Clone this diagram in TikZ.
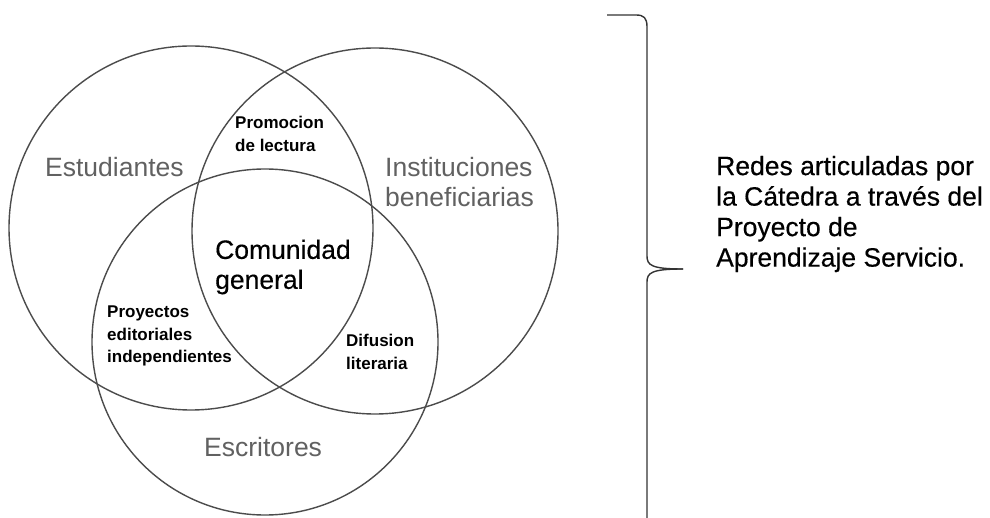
\documentclass[tikz,border=0pt]{standalone}
\usepackage{fontspec}
\setmainfont{Liberation Sans}
\newfontfamily\heavysans[FakeBold=0.4]{Liberation Sans}
\begin{document}
\begin{tikzpicture}[x=1pt,y=-1pt,
  venn/.style={circle,draw=black!70,line width=1.4pt,inner sep=0pt},
  biglabel/.style={text=black!62,font=\fontsize{26.5}{30}\selectfont,align=left,inner sep=0pt},
  midlabel/.style={text=black,font=\heavysans\fontsize{26.5}{30}\selectfont,align=left,inner sep=0pt},
  smalllabel/.style={text=black,font=\fontsize{17}{22.5}\selectfont\bfseries,align=left,inner sep=0pt},
  sidetext/.style={text=black,font=\heavysans\fontsize{26.5}{30.5}\selectfont,align=left,inner sep=0pt},
  bracepath/.style={draw=black!80,line width=1.4pt}]
\useasboundingbox (0,0) rectangle (990,518);
\fill[white] (0,0) rectangle (990,518);
% circles
\node[venn,minimum size=364pt] (est) at (191,228) {};
\node[venn,minimum size=366pt] (ins) at (375,231) {};
\node[venn,minimum size=346pt] (esc) at (265,342) {};
% big labels
\node[biglabel,anchor=west] (lest) at (45,167) {Estudiantes};
\node[biglabel,anchor=west] (lins) at (385,182) {Instituciones\\beneficiarias};
\node[biglabel,anchor=west] (lesc) at (204,447) {Escritores};
\node[midlabel,anchor=west] (lcom) at (215,267) {Comunidad\\general};
% small labels
\node[smalllabel,anchor=west] (lpro) at (235,134) {Promocion\\de lectura};
\node[smalllabel,anchor=west] (lpe) at (107,336) {Proyectos\\editoriales\\independientes};
\node[smalllabel,anchor=west] (ldif) at (346,352) {Difusion\\literaria};
% brace
\coordinate (btop) at (607,15);
\coordinate (btip) at (683,269);
\coordinate (bbot) at (647,522);
\path[bracepath] (btop) -- (636,15) .. controls (644,15) and (647,18) .. (647,27)
  -- (647,256) .. controls (647,265) and (651,269) .. (btip);
\path[bracepath] (btip) .. controls (651,269) and (647,273) .. (647,282) -- (bbot);
% side text
\node[sidetext,anchor=west] (side) at (716,214) {Redes articuladas por\\la Cátedra a través del\\Proyecto de\\Aprendizaje Servicio.};
\end{tikzpicture}
\end{document}
